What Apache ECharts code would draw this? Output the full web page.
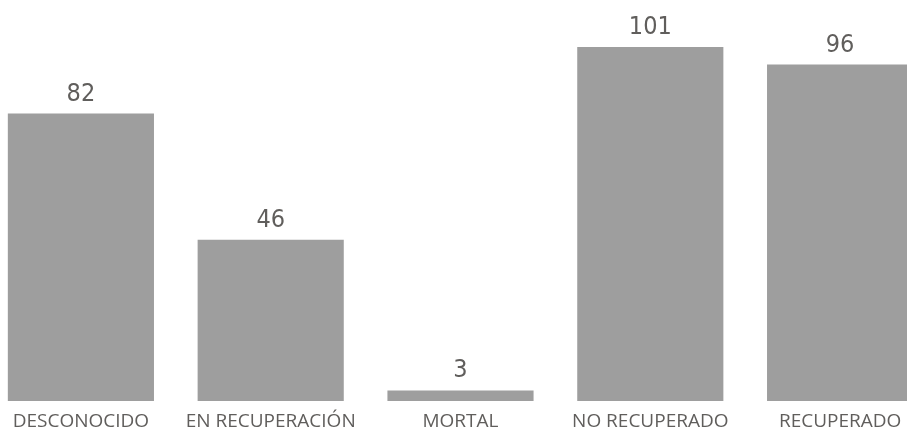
<!DOCTYPE html>
<html>
<head>
<meta charset="utf-8">
<script src="https://cdn.jsdelivr.net/npm/echarts@6/dist/echarts.min.js"></script>
<style>
  html, body { margin: 0; padding: 0; background: #fff; overflow: hidden; }
  /* plot runs past both window edges, like the original visual */
  #chart { position: absolute; left: -14px; top: 0; width: 949px; height: 430px; }
</style>
</head>
<body>
<div id="chart"></div>
<script>
const categories = ['DESCONOCIDO', 'EN RECUPERACIÓN', 'MORTAL', 'NO RECUPERADO', 'RECUPERADO']
const casos = [82, 46, 3, 101, 96]

const chart = echarts.init(document.getElementById('chart'))

chart.setOption({
  animation: false,
  grid: {
    top: 47,
    bottom: 29,
    left: 0,
    right: 0,
    outerBoundsMode: 'none'
  },
  xAxis: {
    type: 'category',
    data: categories,
    axisLine: { show: false },
    axisTick: { show: false },
    axisLabel: {
      interval: 0,
      margin: 11,
      color: '#605e5c',
      fontFamily: 'Open Sans',
      fontSize: 19
    }
  },
  yAxis: {
    type: 'value',
    min: 0,
    max: 101,
    show: false,
    splitLine: { show: false }
  },
  series: [{
    type: 'bar',
    data: casos,
    barWidth: '77%',
    itemStyle: { color: '#9e9e9e' },
    label: {
      show: true,
      position: 'top',
      distance: 7,
      color: '#605e5c',
      fontFamily: 'DejaVu Sans Condensed',
      fontSize: 25
    }
  }]
})
</script>
</body>
</html>
